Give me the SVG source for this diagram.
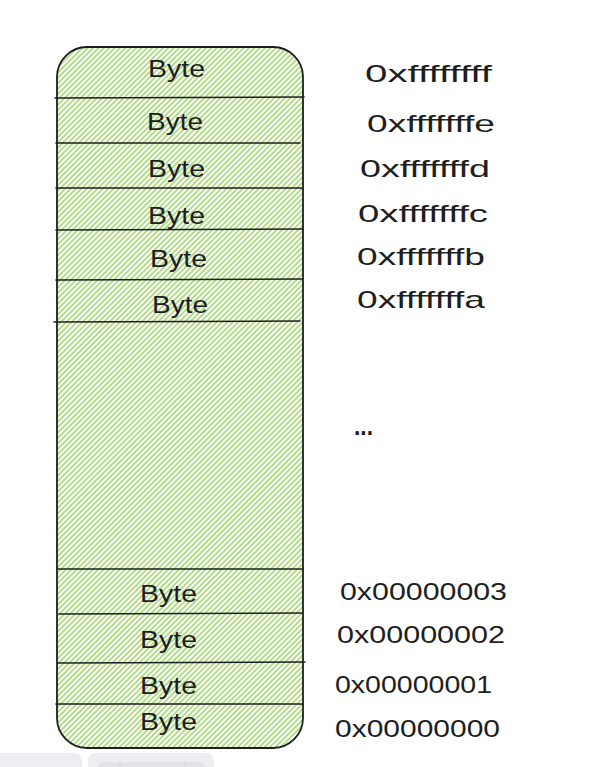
<svg xmlns="http://www.w3.org/2000/svg" width="614" height="767" viewBox="0 0 614 767">
  <defs>
    <pattern id="hatch" patternUnits="userSpaceOnUse" width="3.8" height="3.8" patternTransform="rotate(45)">
      <line x1="1" y1="0" x2="1" y2="3.8" stroke="#95cf5c" stroke-width="1.4"/>
    </pattern>
    <style>
      .lbl { font-family: "Liberation Sans", Arial, sans-serif; font-size: 24px; fill: #1e1e1e; }
      .dots { font-family: "Liberation Sans", Arial, sans-serif; font-size: 26px; font-weight: bold; fill: #1e1e1e; }
      .sep { stroke: #1e1e1e; stroke-width: 1.6; fill: none; stroke-linecap: round; }
      .outline { fill: url(#hatch); stroke: #1e1e1e; stroke-width: 1.8; }
      .ui { fill: #eceef2; }
      .ui2 { fill: #e1e3e8; }
    </style>
  </defs>
  <rect width="614" height="767" fill="#ffffff"/>

  <g id="memory">
    <rect class="outline" x="57" y="47" width="246" height="701" rx="30" ry="30"/>
  </g>

  <g id="connectors"></g>

  <g id="cell-ffffffff">
    <text class="lbl" x="148" y="77" textLength="57" lengthAdjust="spacingAndGlyphs">Byte</text>
  </g>
  <g id="cell-fffffffe">
    <line class="sep" x1="55" y1="98" x2="304" y2="97"/>
    <text class="lbl" x="147" y="130" textLength="56" lengthAdjust="spacingAndGlyphs">Byte</text>
  </g>
  <g id="cell-fffffffd">
    <line class="sep" x1="56" y1="143" x2="300" y2="143"/>
    <text class="lbl" x="148" y="177" textLength="57" lengthAdjust="spacingAndGlyphs">Byte</text>
  </g>
  <g id="cell-fffffffc">
    <line class="sep" x1="56" y1="188" x2="302" y2="188"/>
    <text class="lbl" x="148" y="224" textLength="57" lengthAdjust="spacingAndGlyphs">Byte</text>
  </g>
  <g id="cell-fffffffb">
    <line class="sep" x1="56" y1="230" x2="303" y2="229"/>
    <text class="lbl" x="150" y="267" textLength="57" lengthAdjust="spacingAndGlyphs">Byte</text>
  </g>
  <g id="cell-fffffffa">
    <line class="sep" x1="56" y1="280" x2="302" y2="279"/>
    <text class="lbl" x="152" y="313" textLength="56" lengthAdjust="spacingAndGlyphs">Byte</text>
  </g>
  <g id="gap">
    <line class="sep" x1="54" y1="322" x2="300" y2="321"/>
  </g>
  <g id="cell-00000003">
    <line class="sep" x1="57" y1="569" x2="303" y2="569"/>
    <text class="lbl" x="140" y="602" textLength="57" lengthAdjust="spacingAndGlyphs">Byte</text>
  </g>
  <g id="cell-00000002">
    <line class="sep" x1="59" y1="614" x2="303" y2="613"/>
    <text class="lbl" x="140" y="648" textLength="57" lengthAdjust="spacingAndGlyphs">Byte</text>
  </g>
  <g id="cell-00000001">
    <line class="sep" x1="58" y1="663" x2="305" y2="662"/>
    <text class="lbl" x="140" y="694" textLength="57" lengthAdjust="spacingAndGlyphs">Byte</text>
  </g>
  <g id="cell-00000000">
    <line class="sep" x1="56" y1="704" x2="303" y2="704"/>
    <text class="lbl" x="140" y="730" textLength="57" lengthAdjust="spacingAndGlyphs">Byte</text>
  </g>

  <g id="addresses">
    <text class="lbl" x="365" y="82" textLength="127" lengthAdjust="spacingAndGlyphs">0xffffffff</text>
    <text class="lbl" x="367" y="132" textLength="128" lengthAdjust="spacingAndGlyphs">0xfffffffe</text>
    <text class="lbl" x="360" y="177" textLength="130" lengthAdjust="spacingAndGlyphs">0xfffffffd</text>
    <text class="lbl" x="358" y="222" textLength="130" lengthAdjust="spacingAndGlyphs">0xfffffffc</text>
    <text class="lbl" x="357" y="265" textLength="128" lengthAdjust="spacingAndGlyphs">0xfffffffb</text>
    <text class="lbl" x="357" y="308" textLength="128" lengthAdjust="spacingAndGlyphs">0xfffffffa</text>
    <text class="dots" x="354" y="435" textLength="19" lengthAdjust="spacingAndGlyphs">...</text>
    <text class="lbl" x="340" y="600" textLength="167" lengthAdjust="spacingAndGlyphs">0x00000003</text>
    <text class="lbl" x="337" y="643" textLength="168" lengthAdjust="spacingAndGlyphs">0x00000002</text>
    <text class="lbl" x="335" y="693" textLength="157" lengthAdjust="spacingAndGlyphs">0x00000001</text>
    <text class="lbl" x="335" y="737" textLength="165" lengthAdjust="spacingAndGlyphs">0x00000000</text>
  </g>

  <g id="toolbar">
    <rect class="ui" x="-10" y="753" width="92" height="30" rx="8"/>
    <rect class="ui" x="88" y="753" width="126" height="30" rx="8"/>
    <rect class="ui2" x="98" y="762" width="107" height="20" rx="6"/>
    <line x1="120" y1="762" x2="120" y2="767" stroke="#d2d5db" stroke-width="1"/>
    <line x1="185" y1="762" x2="185" y2="767" stroke="#d2d5db" stroke-width="1"/>
  </g>
</svg>
